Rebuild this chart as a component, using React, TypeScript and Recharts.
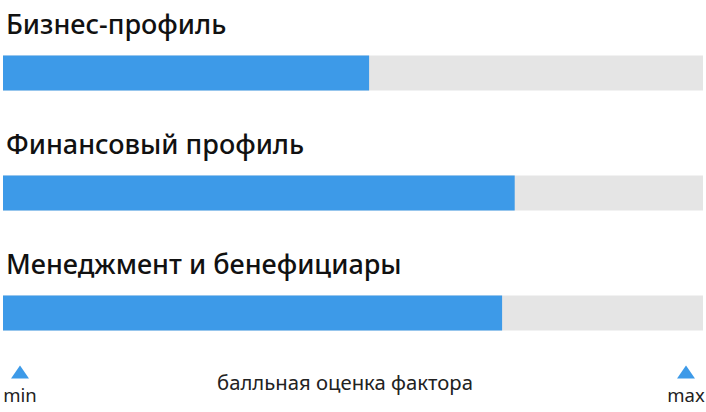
import { BarChart, Bar, XAxis, YAxis, LabelList } from "recharts";

const FACTORS = ["Бизнес-профиль", "Финансовый профиль", "Менеджмент и бенефициары"];
const SCORES = [52.3, 73.1, 71.3];
const SCALE_ENDS = [0, 100];
const SCALE_NAMES = ["min", "max"];
const AXIS_TITLE = "балльная оценка фактора";

const BLUE = "#3d9ae8";
const TRACK = "#e5e5e5";

const data = FACTORS.map((name, i) => ({ name, value: SCORES[i] }));

function FactorTitle(props: any) {
  const { x, y, value } = props;
  return (
    <text x={x + 3} y={y - 22} fill="#111" fontSize={27} fontWeight={500}
      fontFamily="'Noto Sans', sans-serif">
      {value}
    </text>
  );
}

function ScaleTick(props: any) {
  const { x, y, payload, index } = props;
  // marker sits a little inside the track end
  const cx = index === 0 ? x + 17 : x - 17;
  return (
    <g>
      <polygon points={`${cx - 9},${y + 6} ${cx + 9},${y + 6} ${cx},${y - 7}`} fill={BLUE} />
      <text x={cx} y={y + 29} textAnchor="middle" fill="#222" fontSize={18.5}
        fontFamily="'Noto Sans', sans-serif">
        {SCALE_NAMES[SCALE_ENDS.indexOf(payload.value)]}
      </text>
    </g>
  );
}

function AxisTitle(props: any) {
  const { viewBox } = props;
  if (!viewBox) return null;
  return (
    <text x={viewBox.x + viewBox.width / 2 - 8} y={viewBox.y + 17.5} textAnchor="middle"
      fill="#222" fontSize={20.3} fontFamily="'Noto Sans', sans-serif">
      {AXIS_TITLE}
    </text>
  );
}

export default function App() {
  return (
    <div style={{ position: "absolute", left: 0, top: 0, width: 706, height: 412, background: "#fff" }}>
      <BarChart width={706} height={412} data={data} layout="vertical"
        margin={{ top: 12.5, right: 3, bottom: 0, left: 3 }}>
        <XAxis type="number" domain={[0, 100]} ticks={SCALE_ENDS} height={39.5}
          axisLine={false} tickLine={false} tickSize={0} tickMargin={0}
          tick={<ScaleTick />} interval={0} label={<AxisTitle />} />
        <YAxis type="category" dataKey="name" hide />
        <Bar dataKey="value" fill={BLUE} barSize={35} background={{ fill: TRACK }}
          isAnimationActive={false}>
          <LabelList dataKey="name" content={<FactorTitle />} />
        </Bar>
      </BarChart>
    </div>
  );
}
